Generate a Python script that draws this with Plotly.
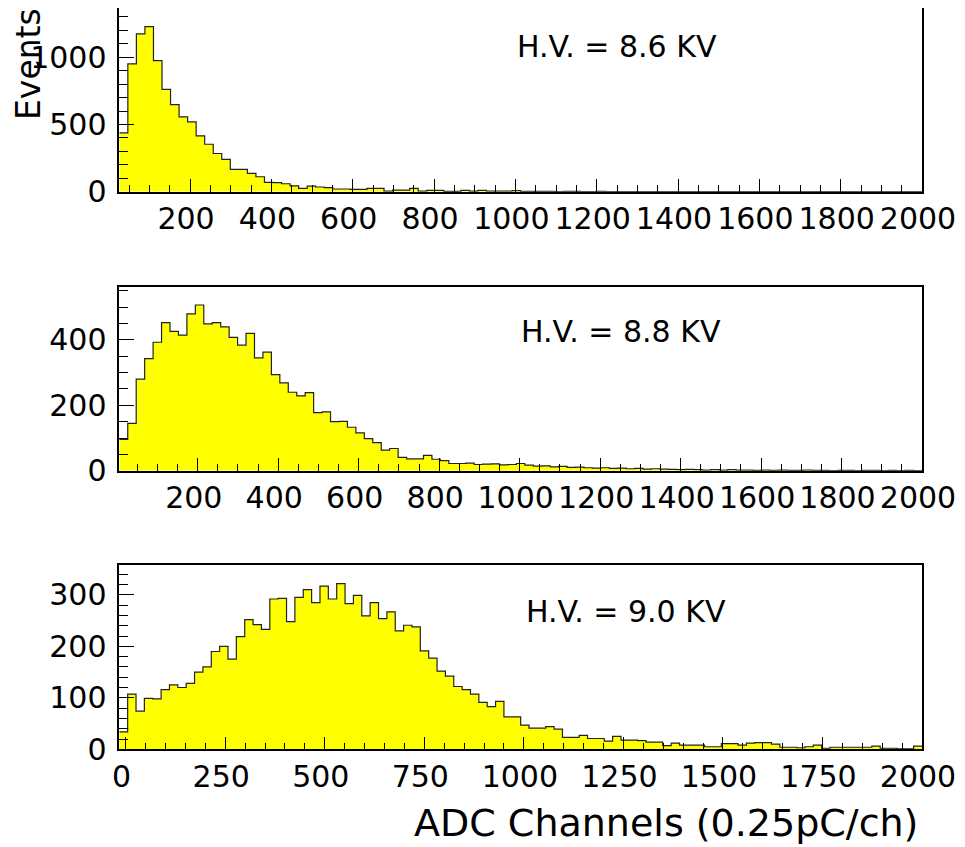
import plotly.graph_objects as go

# page body has an 8px margin: work in reference pixel coords and shift by OFF
OFF = 8
W, H = 965 - OFF, 847 - OFF
BIN_W = 21
X_END = 2000

# --- data (events per bin, bins 21 channels wide, ending at 2000) ---
hv86 = [437, 951, 1173, 1227, 975, 761, 647, 556, 519, 415,
        353, 284, 240, 166, 166, 136, 111, 70, 68, 59,
        44, 25, 42, 35, 30, 20, 20, 17, 17, 25,
        25, 5, 12, 12, 25, 5, 10, 10, 2, 2,
        10, 5, 10, 5, 4, 4, 8, 3, 2, 2,
        2, 1, 2, 2, 1, 1, 2, 1, 1, 0,
        1, 1, 0, 1, 0, 1, 1, 0, 0, 1,
        0, 1, 0, 0, 1, 0, 0, 0, 1, 0,
        0, 0, 1, 0, 0, 0, 0, 1, 0, 0,
        0, 0, 0, 0]

hv88 = [96, 145, 280, 343, 393, 453, 426, 415, 480, 507,
        449, 453, 440, 408, 384, 420, 345, 363, 294, 269,
        240, 229, 239, 178, 180, 150, 151, 133, 116, 98,
        86, 63, 68, 41, 36, 36, 47, 35, 31, 22,
        22, 23, 19, 20, 21, 18, 19, 22, 17, 14,
        15, 12, 13, 10, 11, 9, 8, 9, 7, 8,
        6, 7, 5, 6, 5, 4, 3, 4, 3, 2,
        3, 2, 3, 2, 2, 1, 2, 1, 2, 1,
        1, 2, 1, 1, 0, 1, 1, 0, 1, 1,
        0, 1, 0, 1, 0]

hv90 = [34, 107, 74, 99, 98, 116, 125, 120, 128, 150,
        160, 190, 200, 175, 219, 252, 242, 233, 292, 293,
        248, 295, 310, 285, 317, 292, 322, 283, 299, 259,
        285, 254, 267, 230, 241, 238, 191, 177, 152, 142,
        122, 116, 107, 91, 83, 93, 63, 63, 47, 41,
        41, 44, 39, 23, 23, 27, 21, 21, 16, 25,
        18, 18, 17, 14, 14, 7, 12, 8, 8, 8,
        5, 5, 11, 11, 8, 12, 13, 13, 10, 4,
        4, 3, 5, 8, 2, 4, 4, 4, 4, 4,
        6, 2, 2, 1, 1, 6]

labels = ["H.V. = 8.6 KV", "H.V. = 8.8 KV", "H.V. = 9.0 KV"]
series = [hv86, hv88, hv90]
y_tops = [1366, 563, 358]
y_dtick = [500, 200, 100]
y_minor = [100, 50, 20]
x_dtick = [200, 200, 250]

# panel frames in reference pixels (top, bottom)
frames = [(8.0, 191.7), (286.7, 470.7), (565.0, 749.3)]
x_left_px, x_right_px = 119.3, 922.0

FONT = "DejaVu Sans"


def px_x(x):
    return min(1.0, max(0.0, (x - OFF) / W))


def px_y(y):
    return min(1.0, max(0.0, 1 - (y - OFF) / H))


fig = go.Figure()
for i, vals in enumerate(series):
    n = len(vals)
    x0 = X_END - BIN_W * n
    edges = [x0 + BIN_W * k for k in range(n + 1)]
    ys = list(vals) + [vals[-1]]
    suffix = "" if i == 0 else str(i + 1)
    fig.add_trace(go.Scatter(
        x=edges, y=ys, mode="lines", line=dict(shape="hv", color="#222222", width=1.2),
        fill="tozeroy", fillcolor="#FFFF00", showlegend=False,
        xaxis="x" + suffix, yaxis="y" + suffix, hoverinfo="skip"))
    top, bot = frames[i]
    xdom = [px_x(x_left_px), px_x(x_right_px)]
    ydom = [px_y(bot), px_y(top)]
    axis_common = dict(showline=True, linecolor="black", linewidth=1.5, mirror=True,
                       showgrid=False, zeroline=False, ticks="inside", automargin=False,
                       tickangle=0, tickcolor="black",
                       tickfont=dict(family=FONT, size=30, color="black"))
    fig.layout["xaxis" + suffix] = dict(
        axis_common, domain=xdom, anchor="y" + suffix, range=[x0, X_END],
        tick0=0, dtick=x_dtick[i], ticklen=13, tickwidth=1.2, ticklabelstandoff=0,
        ticklabelshift=-4,
        minor=dict(ticks="inside", dtick=50, tick0=0, ticklen=7, tickcolor="black", tickwidth=1))
    fig.layout["yaxis" + suffix] = dict(
        axis_common, domain=ydom, anchor="x" + suffix, range=[0, y_tops[i]],
        tick0=0, dtick=y_dtick[i], ticklen=15, tickwidth=1.2, ticklabelstandoff=5,
        minor=dict(ticks="inside", dtick=y_minor[i], tick0=0, ticklen=9, tickcolor="black", tickwidth=1))

ann = []
hv_pos = [(617, 47), (621, 331), (626, 611)]
for (px, py), t in zip(hv_pos, labels):
    ann.append(dict(text=t, x=px_x(px), y=px_y(py), xref="paper", yref="paper",
                    showarrow=False, xanchor="center", yanchor="middle",
                    font=dict(family=FONT, size=30, color="black")))
ann.append(dict(text="Events", x=px_x(29), y=px_y(64), xref="paper", yref="paper",
                showarrow=False, textangle=-90, xanchor="center", yanchor="middle",
                font=dict(family=FONT, size=33, color="black")))
ann.append(dict(text="ADC Channels (0.25pC/ch)", x=px_x(920), y=px_y(823),
                xref="paper", yref="paper", showarrow=False, xanchor="right", yanchor="middle",
                font=dict(family=FONT, size=38, color="black")))

fig.update_layout(template="none", width=W, height=H,
                  margin=dict(l=0, r=0, t=0, b=0, autoexpand=False),
                  paper_bgcolor="white", plot_bgcolor="white", annotations=ann)

fig.write_html("out.html")
